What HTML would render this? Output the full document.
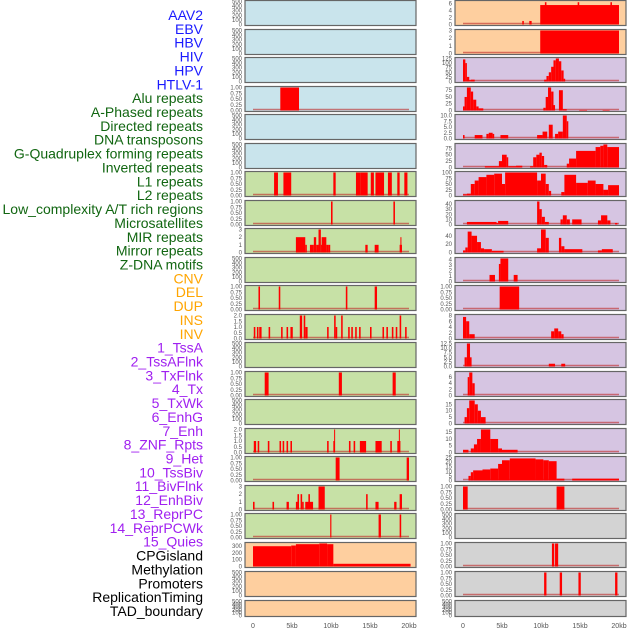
<!DOCTYPE html>
<html><head><meta charset="utf-8"><style>
html,body{margin:0;padding:0;background:#fff;}
svg{display:block;font-family:"Liberation Sans",sans-serif;}
</style></head><body>
<svg id="chart" width="630" height="630" viewBox="0 0 630 630"></svg>
<script>
// ---- row labels ----
const labelNames=["AAV2","EBV","HBV","HIV","HPV","HTLV-1","Alu repeats","A-Phased repeats","Directed repeats","DNA transposons","G-Quadruplex forming repeats","Inverted repeats","L1 repeats","L2 repeats","Low_complexity A/T rich regions","Microsatellites","MIR repeats","Mirror repeats","Z-DNA motifs","CNV","DEL","DUP","INS","INV","1_TssA","2_TssAFlnk","3_TxFlnk","4_Tx","5_TxWk","6_EnhG","7_Enh","8_ZNF_Rpts","9_Het","10_TssBiv","11_BivFlnk","12_EnhBiv","13_ReprPC","14_ReprPCWk","15_Quies","CPGisland","Methylation","Promoters","ReplicationTiming","TAD_boundary"];
const labelGroups=["v","v","v","v","v","v","r","r","r","r","r","r","r","r","r","r","r","r","r","s","s","s","s","s","c","c","c","c","c","c","c","c","c","c","c","c","c","c","c","o","o","o","o","o"];
// ---- x axis ----
const xTicks=[0,5,10,15,20];
const xTickLabels=["0","5kb","10kb","15kb","20kb"];
// ---- tick sets ----
const T_empty=[0,100,200,300,400,500];
const T_frac=[0,0.25,0.5,0.75,1];
const T_3=[0,1,2,3];
const T_2=[0,0.5,1,1.5,2];
const T_6=[0,2,4,6];
const T_125=[0,25,50,75,100,125];
const T_75=[0,25,50,75];
const T_10=[0,2.5,5,7.5,10];
const T_100=[0,25,50,75,100];
const T_40=[0,10,20,30,40];
const T_40b=[0,20,40];
const T_4=[0,1,2,3,4];
const T_8=[0,2,4,6,8];
const T_12=[0,2.5,5,7.5,10,12.5];
const T_6b=[0,2,4,6];
const T_15=[0,5,10,15];
const T_25=[0,5,10,15,20,25];
const T_300=[0,100,200,300];
// ---- left column series [startKb,endKb,value] ----
const L_alu=[[3.5,5.9,1]];
const L_l1=[[2.7,3.2,1],[3.9,4.9,1],[10.3,10.6,1],[13.2,13.8,1],[13.8,14.7,1],[15.1,15.5,1],[15.7,16.8,1],[17.3,17.8,1],[18.5,18.8,1],[19.4,19.8,1]];
const L_l2=[[10,10.2,1],[18,18.2,1]];
const L_low=[[5.5,6.7,2],[6.7,6.9,1],[7.3,7.8,1],[7.8,8.1,2],[8.1,8.4,1],[8.4,8.7,3],[8.7,8.8,1],[8.8,9.4,2],[9.4,9.7,1],[9.7,9.9,1],[14.4,14.7,1],[15.6,16.1,1],[18.8,19.1,1],[18.9,19.0,2]];
const L_mir=[[0.7,0.9,1],[3.3,3.5,1],[11.9,12.1,1],[15.6,15.9,1]];
const L_mirror=[[0.1,0.3,1],[0.5,0.7,1],[0.8,1.1,1],[2.0,2.2,1],[3.6,3.8,1],[4.3,4.5,1],[4.8,5.1,1],[6.0,6.3,2],[6.5,6.7,2],[6.7,7.0,1],[9.5,9.7,1],[10.4,10.6,2],[10.6,10.8,1],[11.3,11.5,2],[12.2,12.4,1],[12.6,12.8,1],[13.1,13.3,1],[13.6,13.8,1],[15.0,15.2,1],[16.6,16.8,1],[17.1,17.3,1],[17.8,18.0,1],[18.3,18.5,1],[18.8,19.0,2],[19.5,19.7,1]];
const L_dup=[[1.5,2.0,1],[11.0,11.4,1],[17.9,18.3,1]];
const L_ins=[[0.1,0.4,1],[0.6,0.8,1],[1.9,2.1,1],[3.4,3.6,1],[3.8,4.0,1],[4.3,4.5,1],[4.8,5.0,1],[9.5,9.7,1],[10.3,10.5,1],[10.4,10.5,2],[12.3,12.5,1],[12.9,13.1,1],[13.7,14.5,1],[15.7,16.5,1],[17.6,17.8,1],[18.5,18.9,1],[18.7,18.8,2]];
const L_inv=[[10.6,11.1,1],[19.7,20.0,1]];
const L_tssa=[[0,0.2,1],[2.5,2.7,1],[4.3,4.6,1],[5.5,5.7,1],[5.7,5.9,2],[6.1,6.3,2],[6.3,6.5,1],[6.7,7.7,1],[7.1,7.3,2],[8.4,9.2,3],[14.5,14.7,2],[15.7,16.1,1],[18.1,18.4,1],[18.8,19.1,2]];
const L_tssaf=[[9.9,10.05,1],[16.1,16.4,1],[18.8,19.0,1]];
const L_cpg=[[0,4.9,300],[4.9,5.5,310],[5.5,8.5,330],[8.5,9.5,340],[9.5,10.3,330],[10.3,20.2,40]];
// ---- right column series ----
const R_aav2=[[7.6,7.8,1],[8.5,8.8,1],[9.9,20,5.5],[10.5,10.7,6.3],[14.7,14.9,6.3],[18.9,19.1,6.3]];
const R_ebv=[[9.9,20,3]];
const R_hiv=[[0,0.3,120],[0.3,0.5,100],[0.5,0.8,25],[0.8,1.0,8],[1.0,1.5,10],[10.4,10.7,10],[10.7,11.0,30],[11.0,11.3,50],[11.3,11.6,80],[11.6,11.9,115],[11.9,12.3,125],[12.3,12.6,110],[12.6,12.9,60],[12.9,13.1,15]];
const R_hpv=[[0,0.2,15],[0.2,0.5,50],[0.5,1.0,85],[1.0,1.3,70],[1.3,1.7,40],[1.7,2.0,15],[2.0,2.6,8],[10.3,10.6,10],[10.6,10.9,50],[10.9,11.3,85],[11.3,11.6,70],[11.6,11.8,20],[12.3,12.8,75],[12.8,13.3,5],[14.9,15.9,2],[17.9,18.8,2]];
const R_alu=[[0,0.2,1.5],[1.5,2.5,1.5],[3.0,3.3,2],[3.3,3.8,2.5],[3.8,4.0,2],[4.8,5.8,1.5],[9.5,10.2,1.5],[10.2,10.8,3],[11.0,11.5,6],[11.8,12.2,2],[12.2,12.8,3],[12.8,13.3,10],[13.3,13.5,7.5]];
const R_gq=[[2.8,5.0,5],[4.6,5.0,25],[5.0,5.6,50],[5.6,5.8,40],[5.8,6.8,5],[6.8,7.6,7],[8.6,9.0,5],[9.0,9.4,40],[9.4,9.8,50],[9.8,10.1,58],[10.1,10.4,45],[10.4,10.8,10],[13.3,13.6,15],[13.6,14.5,35],[14.5,17.0,65],[17.0,17.6,80],[17.6,18.0,85],[18.0,18.5,90],[18.5,20.0,80]];
const R_l1=[[0,0.5,5],[0.5,1.0,8],[1.0,1.5,50],[1.5,2.0,65],[2.0,3.0,80],[3.0,4.0,90],[4.0,5.0,95],[5.0,5.4,50],[5.4,9.5,100],[9.5,10.0,65],[10.0,10.6,95],[10.6,11.0,50],[11.0,11.3,20],[12.6,13.0,15],[13.0,14.5,90],[14.5,16.0,55],[16.0,17.0,65],[17.0,18.0,50],[18.0,18.6,25],[18.6,20.0,45]];
const R_low=[[0.5,4.3,5],[4.3,4.5,3],[4.5,5.8,7],[9.5,9.8,45],[9.8,10.1,30],[10.1,10.5,15],[10.5,11.0,5],[12.5,12.8,10],[12.8,13.3,18],[13.3,13.7,10],[14.0,15.2,10],[17.3,17.7,8],[17.7,18.5,18],[18.5,18.9,8],[19.5,19.8,3]];
const R_micro=[[0,0.3,5],[0.3,0.6,12],[0.6,1.1,50],[1.1,1.8,40],[1.8,2.3,25],[2.3,2.7,10],[2.7,3.7,8],[3.7,5.2,4],[9.5,10.0,10],[10.0,10.6,55],[10.6,11.0,35],[12.3,12.6,35],[12.6,13.0,15],[13.0,15.3,8],[17.3,17.8,5],[17.8,19.2,8]];
const R_mirror=[[3.4,4.1,1.2],[4.6,4.8,3.2],[4.8,5.8,4.2],[6.5,7.0,1.2]];
const R_zdna=[[4.7,7.2,1]];
const R_cnv=[[0,0.4,7.5],[0.4,0.8,6],[0.8,1.5,1.5],[11.3,11.7,2.5],[11.7,12.2,3.5],[12.2,12.6,2.5],[12.6,12.9,1.5]];
const R_del=[[0.2,0.5,5],[0.5,0.9,12.5],[0.9,1.1,5],[11.0,11.8,1.5],[12.6,13.1,1.5]];
const R_dup=[[0.6,0.8,6],[0.8,1.2,7.5],[1.2,1.5,4]];
const R_ins=[[0.2,0.5,5],[0.5,0.8,12],[0.8,1.5,18],[1.5,1.9,15],[1.9,2.3,10],[2.3,2.9,5]];
const R_inv=[[0,0.7,2],[1.0,1.4,3],[1.4,1.8,6],[1.8,2.3,10],[2.3,3.5,17],[3.5,4.5,10],[4.5,5.0,3],[5.0,7.0,2]];
const R_tssa=[[0.7,1.0,5],[1.0,1.3,9],[1.3,2.5,11],[2.5,3.5,12],[3.5,4.5,13],[4.5,5.0,18],[5.0,6.0,22],[6.0,9.3,24],[9.3,10.3,23],[10.3,11.0,22],[11.0,12.0,21],[12.0,13.0,2],[14.0,20.0,2]];
const R_tssaf=[[0,0.6,1],[12.0,13.0,1]];
const R_promo=[[11.4,11.7,1],[11.8,12.2,1]];
const R_rep=[[10.4,10.7,1],[12.4,12.7,1],[14.8,15.1,1],[19.5,19.8,1]];
// ---- panels: [name, series, ticks, decimals, axis max] ----
const leftPanels=[["aav2",null,T_empty,0,500],["ebv",null,T_empty,0,500],["hbv",null,T_empty,0,500],["alu",L_alu,T_frac,2,1],["aphased",null,T_empty,0,500],["directed",null,T_empty,0,500],
["l1",L_l1,T_frac,2,1],["l2",L_l2,T_frac,2,1],["low-complexity",L_low,T_3,0,3],["microsat",null,T_empty,0,500],["mir",L_mir,T_frac,2,1],["mirror",L_mirror,T_2,1,2],
["zdna",null,T_empty,0,500],["dup",L_dup,T_frac,2,1],["ins-empty",null,T_empty,0,500],["ins",L_ins,T_2,1,2],["inv",L_inv,T_frac,2,1],["tssa",L_tssa,T_3,0,3],["tssaflnk",L_tssaf,T_frac,2,1],
["cpgisland",L_cpg,T_300,0,340],["promoters",null,T_empty,0,500],["tad",null,T_empty,0,500]];
const rightPanels=[["aav2",R_aav2,T_6,0,6.5],["ebv",R_ebv,T_3,0,3],["hiv",R_hiv,T_125,0,125],["hpv",R_hpv,T_75,0,85],["alu",R_alu,T_10,1,10],["gquad",R_gq,T_75,0,90],
["l1",R_l1,T_100,0,100],["low-complexity",R_low,T_40,0,45],["microsat",R_micro,T_40b,0,55],["mirror",R_mirror,T_4,0,4.2],["zdna",R_zdna,T_frac,2,1],["cnv",R_cnv,T_8,0,8],
["del",R_del,T_12,1,12.5],["dup",R_dup,T_6b,0,7.5],["ins",R_ins,T_15,0,18],["inv",R_inv,T_15,0,17],["tssa",R_tssa,T_25,0,25],["tssaflnk",R_tssaf,T_frac,2,1],["txflnk",null,T_empty,0,500],
["promoters",R_promo,T_frac,2,1],["replication",R_rep,T_frac,2,1],["tad",null,T_empty,0,500]];

const NS="http://www.w3.org/2000/svg";
const svg=document.getElementById("chart");
function mk(tag,attrs,parent){const e=document.createElementNS(NS,tag);for(const k in attrs)e.setAttribute(k,attrs[k]);(parent||svg).appendChild(e);return e;}
const rowTops=[0,29,57,86,114,143,171,200,228,257,285,314,342,371,399,428,456,485,513,542,571,600];
const leftBg=["#c9e4ec","#c9e4ec","#c9e4ec","#c9e4ec","#c9e4ec","#c9e4ec","#c7e1a6","#c7e1a6","#c7e1a6","#c7e1a6","#c7e1a6","#c7e1a6","#c7e1a6","#c7e1a6","#c7e1a6","#c7e1a6","#c7e1a6","#c7e1a6","#c7e1a6","#fecf9f","#fecf9f","#fecf9f"];
const rightBg=["#fecf9f","#fecf9f","#d6c5e2","#d6c5e2","#d6c5e2","#d6c5e2","#d6c5e2","#d6c5e2","#d6c5e2","#d6c5e2","#d6c5e2","#d6c5e2","#d6c5e2","#d6c5e2","#d6c5e2","#d6c5e2","#d6c5e2","#d3d3d3","#d3d3d3","#d3d3d3","#d3d3d3","#d3d3d3"];
const colors={v:"#1a1aff",r:"#116611",s:"#ffa500",c:"#a020f0",o:"#000000"};

// labels
for(let i=0;i<labelNames.length;i++){
  const t=mk("text",{x:203,y:(15+i*13.86+5).toFixed(1),"text-anchor":"end","font-size":"14",fill:colors[labelGroups[i]]});
  
  
  t.textContent=labelNames[i];
}

function drawPanel(px,i,p,bg,side){
  const top=rowTops[i], h=(i===21?16:25), W=171;
  const g=mk("g",{});
  
  
  mk("rect",{x:px,y:top+0.5,width:W,height:h,fill:bg,stroke:"#666","stroke-width":1.2},g);
  const ticks=p[2];
  const ymax=Math.max(p[4],ticks[ticks.length-1]);
  const yTop=top+1.5, yBot=top+h-0.5;
  const ys=v=>yBot-(v/ymax)*(yBot-yTop);
  const xs=kb=>px+8+kb*7.8;
  ticks.forEach(v=>{
    const t=mk("text",{x:px-3,y:(ys(v)+2).toFixed(1),"text-anchor":"end","font-size":"6",fill:"#555"},g);
    
    
    t.textContent=v.toFixed(p[3]);
  });
  if(p[1]){
    const base=mk("line",{x1:xs(0),x2:xs(20),y1:yBot-1,y2:yBot-1,stroke:"rgba(190,40,40,0.6)","stroke-width":1.5},g);
    
    
    p[1].forEach(s=>{
      const y=Math.max(ys(s[2]),top+1);
      const r=mk("rect",{x:xs(s[0]).toFixed(2),y:y.toFixed(2),width:Math.max(1,(xs(s[1])-xs(s[0]))).toFixed(2),height:(yBot-y).toFixed(2),fill:"#ff0000"},g);
      
      
    });
  }
}
leftPanels.forEach((p,i)=>drawPanel(245,i,p,leftBg[i],"left"));
rightPanels.forEach((p,i)=>drawPanel(455,i,p,rightBg[i],"right"));

// x axes
[253,463].forEach(x0=>{
  xTicks.forEach((k,j)=>{
    const t=mk("text",{x:x0+k*7.8,y:628,"text-anchor":"middle","font-size":"7",fill:"#555"});
    
    
    t.textContent=xTickLabels[j];
  });
});
</script>
</body></html>
